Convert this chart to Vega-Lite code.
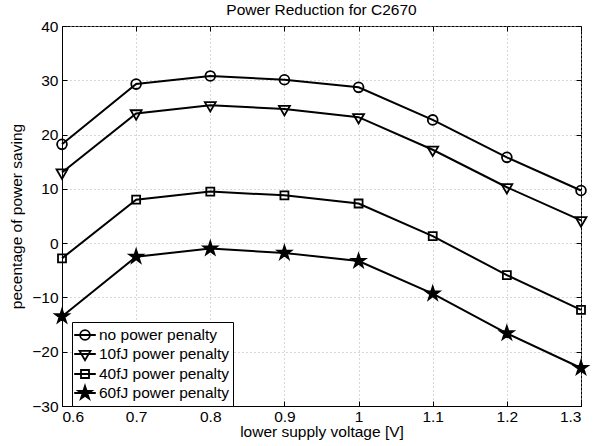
{
  "$schema": "https://vega.github.io/schema/vega-lite/v6.json",
  "width": 519,
  "height": 380,
  "autosize": "none",
  "padding": {"left": 62, "top": 26, "right": 23, "bottom": 40},
  "title": {"text": "Power Reduction for C2670", "fontSize": 15.5, "fontWeight": "normal", "font": "Liberation Sans", "color": "black", "offset": 1},
  "data": {"values": [
    {"v": 0.6, "p": 18.2, "s": "no power penalty"},
    {"v": 0.7, "p": 29.3, "s": "no power penalty"},
    {"v": 0.8, "p": 30.8, "s": "no power penalty"},
    {"v": 0.9, "p": 30.1, "s": "no power penalty"},
    {"v": 1.0, "p": 28.7, "s": "no power penalty"},
    {"v": 1.1, "p": 22.7, "s": "no power penalty"},
    {"v": 1.2, "p": 15.8, "s": "no power penalty"},
    {"v": 1.3, "p": 9.7, "s": "no power penalty"},
    {"v": 0.6, "p": 13.0, "s": "10fJ power penalty"},
    {"v": 0.7, "p": 23.9, "s": "10fJ power penalty"},
    {"v": 0.8, "p": 25.4, "s": "10fJ power penalty"},
    {"v": 0.9, "p": 24.7, "s": "10fJ power penalty"},
    {"v": 1.0, "p": 23.2, "s": "10fJ power penalty"},
    {"v": 1.1, "p": 17.2, "s": "10fJ power penalty"},
    {"v": 1.2, "p": 10.3, "s": "10fJ power penalty"},
    {"v": 1.3, "p": 4.2, "s": "10fJ power penalty"},
    {"v": 0.6, "p": -2.8, "s": "40fJ power penalty"},
    {"v": 0.7, "p": 8.0, "s": "40fJ power penalty"},
    {"v": 0.8, "p": 9.5, "s": "40fJ power penalty"},
    {"v": 0.9, "p": 8.8, "s": "40fJ power penalty"},
    {"v": 1.0, "p": 7.3, "s": "40fJ power penalty"},
    {"v": 1.1, "p": 1.3, "s": "40fJ power penalty"},
    {"v": 1.2, "p": -5.9, "s": "40fJ power penalty"},
    {"v": 1.3, "p": -12.3, "s": "40fJ power penalty"},
    {"v": 0.6, "p": -13.5, "s": "60fJ power penalty"},
    {"v": 0.7, "p": -2.5, "s": "60fJ power penalty"},
    {"v": 0.8, "p": -1.0, "s": "60fJ power penalty"},
    {"v": 0.9, "p": -1.8, "s": "60fJ power penalty"},
    {"v": 1.0, "p": -3.3, "s": "60fJ power penalty"},
    {"v": 1.1, "p": -9.3, "s": "60fJ power penalty"},
    {"v": 1.2, "p": -16.6, "s": "60fJ power penalty"},
    {"v": 1.3, "p": -23.0, "s": "60fJ power penalty"}
  ]},
  "layer": [
    {
      "mark": {"type": "line", "stroke": "black", "strokeWidth": 2},
      "encoding": {
        "x": {"field": "v", "type": "quantitative",
              "scale": {"domain": [0.6, 1.3], "nice": false, "zero": false},
              "axis": {"values": [0.6, 0.7, 0.8, 0.9, 1.0, 1.1, 1.2, 1.3], "format": "~g", "title": "lower supply voltage [V]", "grid": true, "tickSize": -5, "labelPadding": 8, "titlePadding": 0}},
        "y": {"field": "p", "type": "quantitative",
              "scale": {"domain": [-30, 40], "nice": false, "zero": false},
              "axis": {"values": [-30, -20, -10, 0, 10, 20, 30, 40], "format": "d", "title": "pecentage of power saving", "grid": true, "tickSize": -5, "labelPadding": 9, "titlePadding": 7}},
        "detail": {"field": "s"}
      }
    },
    {
      "mark": {"type": "point", "stroke": "black", "strokeWidth": 1.8, "size": 196, "opacity": 1},
      "encoding": {
        "x": {"field": "v", "type": "quantitative", "axis": {"orient": "top", "values": [0.6, 0.7, 0.8, 0.9, 1.0, 1.1, 1.2, 1.3], "labels": false, "grid": false, "tickSize": -5, "title": null, "domain": false}},
        "y": {"field": "p", "type": "quantitative", "axis": {"orient": "right", "values": [-30, -20, -10, 0, 10, 20, 30, 40], "labels": false, "grid": false, "tickSize": -5, "title": null, "domain": false}},
        "shape": {"field": "s", "type": "nominal", "legend": null,
                  "scale": {"domain": ["no power penalty", "10fJ power penalty", "40fJ power penalty", "60fJ power penalty"],
                            "range": [
                              "M-0.7,0A0.7,0.7 0 1,0 0.7,0A0.7,0.7 0 1,0 -0.7,0Z",
                              "M-0.78,-0.45L0.78,-0.45L0,0.9Z",
                              "M-0.57,-0.57L0.57,-0.57L0.57,0.57L-0.57,0.57Z",
                              "M0,-1L0.225,-0.309L0.951,-0.309L0.363,0.118L0.588,0.809L0,0.382L-0.588,0.809L-0.363,0.118L-0.951,-0.309L-0.225,-0.309Z"
                            ]}},
        "fill": {"field": "s", "type": "nominal", "legend": null,
                 "scale": {"domain": ["no power penalty", "10fJ power penalty", "40fJ power penalty", "60fJ power penalty"],
                           "range": ["transparent", "transparent", "transparent", "black"]}}
      }
    },
    {
      "mark": {"type": "point", "strokeWidth": 1.8, "size": 324, "opacity": 0},
      "encoding": {
        "x": {"field": "v", "type": "quantitative", "axis": null},
        "y": {"field": "p", "type": "quantitative", "axis": null},
        "shape": {"field": "s", "type": "nominal",
                  "scale": {"domain": ["no power penalty", "10fJ power penalty", "40fJ power penalty", "60fJ power penalty"],
                            "range": [
                              "M-1.2,0L1.2,0M-0.545,0A0.545,0.545 0 1,0 0.545,0A0.545,0.545 0 1,0 -0.545,0Z",
                              "M-1.2,0L1.2,0M-0.606,-0.35L0.606,-0.35L0,0.7Z",
                              "M-1.2,0L1.2,0M-0.444,-0.444L0.444,-0.444L0.444,0.444L-0.444,0.444Z",
                              "M-1.2,0L1.2,0M0,-0.778L0.175,-0.24L0.74,-0.24L0.282,0.092L0.457,0.629L0,0.297L-0.457,0.629L-0.282,0.092L-0.74,-0.24L-0.175,-0.24Z"
                            ]},
                  "legend": {"title": null, "orient": "none", "legendX": 10, "legendY": 296,
                             "strokeColor": "black", "fillColor": "white", "padding": 3,
                             "symbolSize": 324, "symbolStrokeWidth": 1.8, "symbolOpacity": 1,
                             "labelFontSize": 15.5, "labelFont": "Liberation Sans", "labelColor": "black", "labelOffset": 4, "rowPadding": -2,
                             "encode": {"symbols": {"update": {"opacity": {"value": 1}, "strokeOpacity": {"value": 1}, "fillOpacity": {"value": 1}, "strokeWidth": {"value": 1.8}}}}}},
        "fill": {"field": "s", "type": "nominal",
                 "scale": {"domain": ["no power penalty", "10fJ power penalty", "40fJ power penalty", "60fJ power penalty"],
                           "range": ["transparent", "transparent", "transparent", "black"]}},
        "stroke": {"field": "s", "type": "nominal",
                 "scale": {"domain": ["no power penalty", "10fJ power penalty", "40fJ power penalty", "60fJ power penalty"],
                           "range": ["black", "black", "black", "black"]}}
      }
    }
  ],
  "resolve": {"scale": {"shape": "independent", "fill": "independent", "stroke": "independent"}, "axis": {"x": "independent", "y": "independent"}},
  "config": {
    "font": "Liberation Sans",
    "view": {"stroke": "black", "strokeWidth": 1},
    "axis": {"labelFontSize": 15.5, "titleFontSize": 15.5, "titleFontWeight": "normal", "labelColor": "black", "titleColor": "black",
             "domainColor": "black", "tickColor": "black", "tickWidth": 1, "gridColor": "#b0b0b0", "gridDash": [1, 3], "gridOpacity": 1, "gridWidth": 1, "labelFont": "Liberation Sans", "titleFont": "Liberation Sans"}
  }
}
